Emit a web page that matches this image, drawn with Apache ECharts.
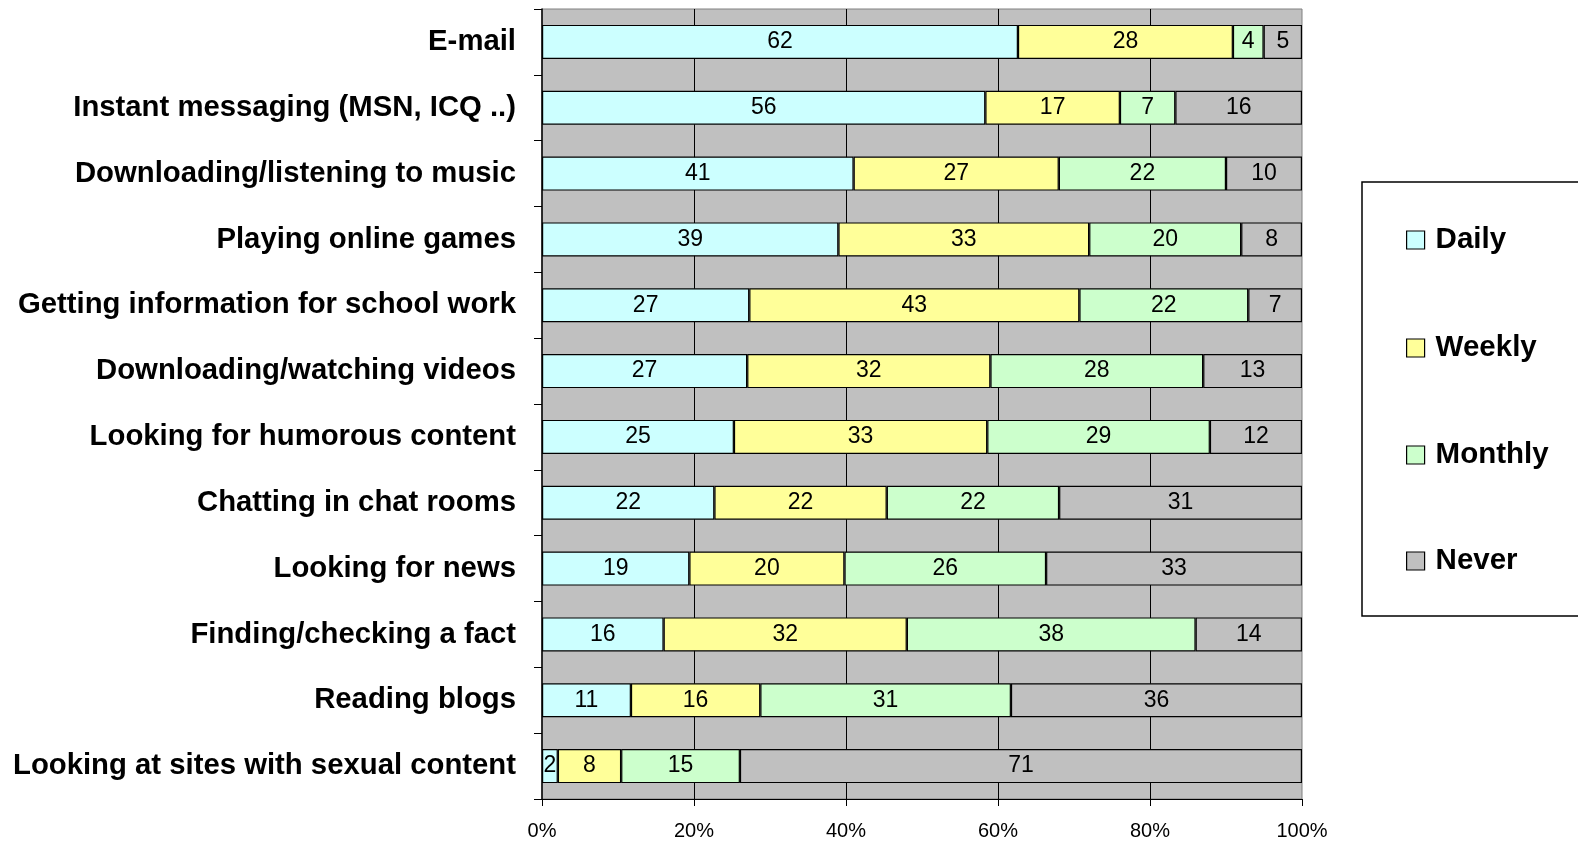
<!DOCTYPE html>
<html>
<head>
<meta charset="utf-8">
<script src="https://cdn.jsdelivr.net/npm/echarts@6/dist/echarts.min.js"></script>
<style>
html,body{margin:0;padding:0;background:#fff;}
#c{width:1578px;height:842px;}
</style>
</head>
<body>
<div id="c"></div>
<script>
const categories = [
  'E-mail',
  'Instant messaging (MSN, ICQ ..)',
  'Downloading/listening to music',
  'Playing online games',
  'Getting information for school work',
  'Downloading/watching videos',
  'Looking for humorous content',
  'Chatting in chat rooms',
  'Looking for news',
  'Finding/checking a fact',
  'Reading blogs',
  'Looking at sites with sexual content'
];
const daily   = [62, 56, 41, 39, 27, 27, 25, 22, 19, 16, 11, 2];
const weekly  = [28, 17, 27, 33, 43, 32, 33, 22, 20, 32, 16, 8];
const monthly = [4, 7, 22, 20, 22, 28, 29, 22, 26, 38, 31, 15];
const never   = [5, 16, 10, 8, 7, 13, 12, 31, 33, 14, 36, 71];
const seriesNames = ['Daily', 'Weekly', 'Monthly', 'Never'];
const seriesColors = ['#CCFFFF', '#FFFF99', '#CCFFCC', '#C0C0C0'];
const xTicks = [0, 20, 40, 60, 80, 100];

const raw = [daily, weekly, monthly, never];
const totals = categories.map((_, i) => raw.reduce((s, a) => s + a[i], 0));
const FONT = '"Liberation Sans", Arial, sans-serif';

const chart = echarts.init(document.getElementById('c'), null, {renderer: 'canvas'});

const series = raw.map((arr, k) => ({
  name: seriesNames[k],
  type: 'bar',
  stack: 'total',
  barWidth: 34,
  data: arr.map((v, i) => v / totals[i] * 100),
  itemStyle: {color: seriesColors[k], borderColor: '#000', borderWidth: 1.2},
  label: {
    show: true,
    position: 'inside',
    color: '#000',
    fontSize: 23,
    fontFamily: FONT,
    formatter: p => String(arr[p.dataIndex])
  },
  emphasis: {disabled: true}
}));

const legendCenters = [240, 348, 455, 561];
const legends = seriesNames.map((n, k) => ({
  data: [n],
  orient: 'vertical',
  left: 1406,
  top: legendCenters[k] - 16,
  padding: 0,
  itemWidth: 18,
  itemHeight: 18,
  itemGap: 9,
  icon: 'rect',
  selectedMode: false,
  itemStyle: {borderColor: '#000', borderWidth: 1.2},
  textStyle: {fontSize: 29.5, fontWeight: 'bold', color: '#000', fontFamily: FONT, lineHeight: 32, padding: [0, 0, 0, 6]}
}));

chart.setOption({
  animation: false,
  backgroundColor: '#fff',
  grid: {
    left: 542, width: 760, top: 9, height: 790,
    show: true, backgroundColor: '#C0C0C0', borderColor: '#808080', borderWidth: 1,
    containLabel: false
  },
  legend: legends,
  xAxis: {
    type: 'value',
    min: xTicks[0], max: xTicks[xTicks.length - 1], interval: 20,
    axisLine: {show: true, lineStyle: {color: '#000', width: 1}},
    axisTick: {show: true, length: 7, lineStyle: {color: '#000'}},
    axisLabel: {formatter: '{value}%', fontSize: 20, color: '#000', fontFamily: FONT, margin: 22},
    splitLine: {show: true, showMinLine: false, showMaxLine: false, lineStyle: {color: '#000', width: 1}}
  },
  yAxis: {
    type: 'category',
    data: categories,
    inverse: true,
    axisLine: {show: true, lineStyle: {color: '#000', width: 1.5}},
    axisTick: {show: true, length: 8, lineStyle: {color: '#000'}},
    axisLabel: {fontSize: 29.3, fontWeight: 'bold', color: '#000', fontFamily: FONT, margin: 26},
    splitLine: {show: false}
  },
  graphic: [{
    type: 'rect',
    shape: {x: 1362, y: 182, width: 300, height: 434},
    style: {fill: 'none', stroke: '#000', lineWidth: 1.5},
    silent: true,
    z: 10
  }],
  series: series
});
</script>
</body>
</html>
